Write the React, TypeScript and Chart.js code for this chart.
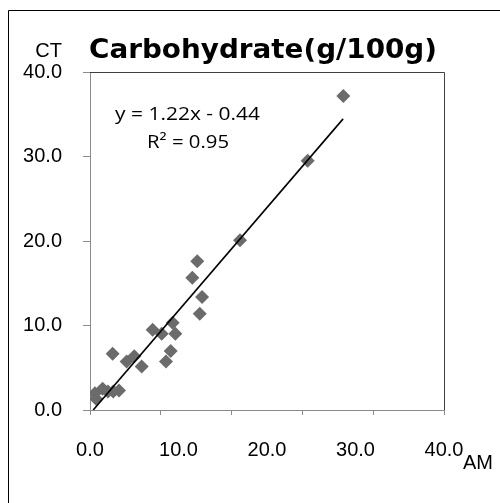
import React, { useEffect, useRef } from "react";
import { Chart, registerables } from "chart.js";

Chart.register(...registerables);

// ---- data ----
const TITLE = "Carbohydrate(g/100g)";
const X_AXIS_NAME = "AM";
const Y_AXIS_NAME = "CT";
const EQUATION = "y = 1.22x - 0.44";
const R_SQUARED = "R² = 0.95";
const TREND_SLOPE = 1.22;
const TREND_INTERCEPT = -0.44;
const TREND_X = [0.36, 28.6];

const AM_VALUES = [
  28.62, 24.6, 16.95, 12.12, 11.56, 12.66, 12.4, 9.34, 7.08, 8.1, 9.64, 9.12,
  8.59, 2.56, 4.14, 5.0, 5.84, 2.63, 3.28, 1.43, 0.56, 0.68, 2.03,
];
const CT_VALUES = [
  37.15, 29.5, 20.1, 17.6, 15.66, 13.37, 11.4, 10.33, 9.5, 9.03, 9.03, 6.97,
  5.75, 6.66, 5.75, 6.37, 5.15, 2.19, 2.31, 2.51, 1.99, 1.33, 2.19,
];

const AXIS_MIN = 0;
const AXIS_MAX = 40;
const LABEL_STEP = 10;
const X_TICK_MARKS = [0, 8, 16, 24, 32, 40];

const AXIS_GRAY = "#8a8a8a";
const MARKER_GRAY = "#6b6b6b";

function drawFitted(
  ctx: CanvasRenderingContext2D,
  text: string,
  x: number,
  y: number,
  font: string,
  targetWidth: number
) {
  ctx.save();
  ctx.font = font;
  ctx.textAlign = "left";
  ctx.textBaseline = "alphabetic";
  const w = ctx.measureText(text).width;
  ctx.translate(x, y);
  ctx.scale(targetWidth / w, 1);
  ctx.fillText(text, 0, 0);
  ctx.restore();
}

const decorPlugin = {
  id: "decor",
  beforeDraw(chart: any) {
    const ctx = chart.ctx as CanvasRenderingContext2D;
    ctx.save();
    ctx.fillStyle = "#ffffff";
    ctx.fillRect(0, 0, chart.width, chart.height);
    ctx.strokeStyle = "#000000";
    ctx.lineWidth = 1;
    ctx.beginPath();
    ctx.moveTo(8.5, chart.height);
    ctx.lineTo(8.5, 10.5);
    ctx.lineTo(chart.width, 10.5);
    ctx.stroke();
    ctx.restore();
  },
  afterDraw(chart: any) {
    const ctx = chart.ctx as CanvasRenderingContext2D;
    const a = chart.chartArea;
    ctx.save();
    // plot frame top/right
    ctx.strokeStyle = "#404040";
    ctx.lineWidth = 1;
    ctx.beginPath();
    ctx.moveTo(a.left, Math.round(a.top) + 0.5);
    ctx.lineTo(Math.round(a.right) + 0.5, Math.round(a.top) + 0.5);
    ctx.lineTo(Math.round(a.right) + 0.5, a.bottom);
    ctx.stroke();

    ctx.fillStyle = "#000000";
    drawFitted(ctx, TITLE, 89, 58, 'bold 26px "DejaVu Sans"', 348);

    ctx.font = '20px "Liberation Sans", Arial, sans-serif';
    ctx.textBaseline = "alphabetic";
    ctx.textAlign = "right";
    ctx.fillText(Y_AXIS_NAME, 62, 57);
    ctx.textAlign = "left";
    ctx.fillText(X_AXIS_NAME, 463, 469);

    drawFitted(ctx, EQUATION, 115, 120, '18px "Open Sans"', 145);
    drawFitted(ctx, R_SQUARED, 147, 148, '18px "Open Sans"', 82);
    ctx.restore();
  },
};

export default function App() {
  const canvasRef = useRef<HTMLCanvasElement | null>(null);

  useEffect(() => {
    const canvas = canvasRef.current;
    if (!canvas) return;
    const points = AM_VALUES.map((x, i) => ({ x, y: CT_VALUES[i] }));
    const trend = TREND_X.map((x) => ({ x, y: TREND_SLOPE * x + TREND_INTERCEPT }));
    const tickFont = { family: '"Liberation Sans", Arial, sans-serif', size: 20 };

    const chart = new Chart(canvas, {
      type: "scatter",
      data: {
        datasets: [
          {
            type: "line",
            label: "trend",
            data: trend,
            borderColor: "#000000",
            borderWidth: 1.6,
            pointRadius: 0,
            fill: false,
            order: 0,
            xAxisID: "x",
            yAxisID: "y",
          } as any,
          {
            label: "CT vs AM",
            data: points,
            pointStyle: "rectRot",
            pointRadius: 7,
            pointBackgroundColor: MARKER_GRAY,
            pointBorderColor: MARKER_GRAY,
            pointBorderWidth: 0,
            backgroundColor: MARKER_GRAY,
            order: 1,
            xAxisID: "x",
            yAxisID: "y",
          },
        ],
      },
      options: {
        responsive: false,
        animation: false,
        devicePixelRatio: 1,
        layout: { padding: { left: 0, right: 56, top: 72, bottom: 0 } },
        plugins: {
          legend: { display: false },
          title: { display: false },
          tooltip: { enabled: false },
        },
        scales: {
          x: {
            type: "linear",
            position: "bottom",
            min: AXIS_MIN,
            max: AXIS_MAX,
            afterBuildTicks: (s: any) => {
              s.ticks = X_TICK_MARKS.map((v) => ({ value: v }));
            },
            ticks: { display: false },
            grid: {
              drawOnChartArea: false,
              drawTicks: true,
              tickLength: 5,
              color: AXIS_GRAY,
            },
            border: { color: AXIS_GRAY, width: 1 },
            afterFit: (s: any) => {
              s.height = 5;
            },
          },
          xl: {
            type: "linear",
            position: "bottom",
            min: AXIS_MIN,
            max: AXIS_MAX,
            ticks: {
              stepSize: LABEL_STEP,
              callback: (v: any) => Number(v).toFixed(1),
              font: tickFont,
              color: "#000000",
              padding: 23,
              maxRotation: 0,
              autoSkip: false,
            },
            grid: { display: false, drawTicks: false, tickLength: 0 },
            border: { display: false },
            afterFit: (s: any) => {
              s.height = 88;
            },
          },
          y: {
            type: "linear",
            position: "left",
            min: AXIS_MIN,
            max: AXIS_MAX,
            ticks: {
              stepSize: LABEL_STEP,
              callback: (v: any) => Number(v).toFixed(1),
              font: tickFont,
              color: "#000000",
              padding: 21,
            },
            grid: {
              drawOnChartArea: false,
              drawTicks: true,
              tickLength: 7,
              color: AXIS_GRAY,
            },
            border: { color: AXIS_GRAY, width: 1 },
            afterFit: (s: any) => {
              s.width = 90;
            },
          },
        } as any,
      },
      plugins: [decorPlugin],
    });
    return () => chart.destroy();
  }, []);

  return (
    <div style={{ position: "fixed", left: 0, top: 0, width: 500, height: 503 }}>
      <canvas ref={canvasRef} width={500} height={503} style={{ display: "block" }} />
    </div>
  );
}
